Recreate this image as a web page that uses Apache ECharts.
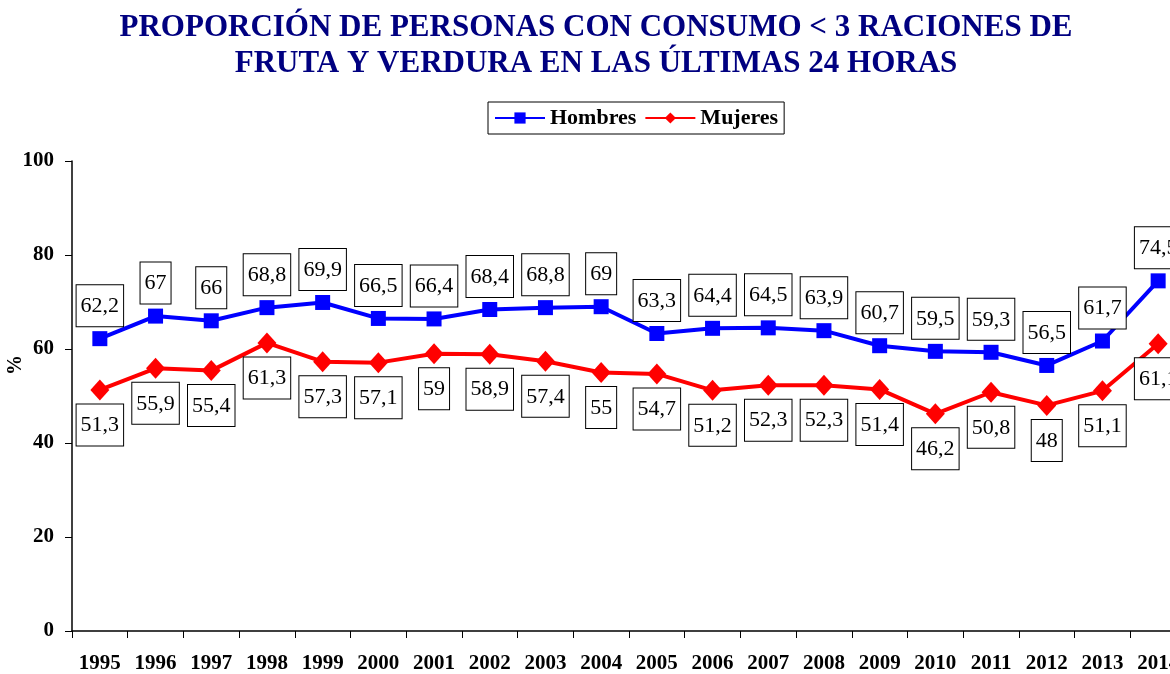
<!DOCTYPE html>
<html>
<head>
<meta charset="utf-8">
<script src="https://cdn.jsdelivr.net/npm/echarts@6/dist/echarts.min.js"></script>
<style>
html, body { margin: 0; padding: 0; background: #fff; }
#main { width: 1170px; height: 674px; }
</style>
</head>
<body>
<div id="main"></div>
<script>
const years = ['1995', '1996', '1997', '1998', '1999', '2000', '2001', '2002', '2003', '2004',
    '2005', '2006', '2007', '2008', '2009', '2010', '2011', '2012', '2013', '2014'];
const hombres = [62.2, 67, 66, 68.8, 69.9, 66.5, 66.4, 68.4, 68.8, 69,
    63.3, 64.4, 64.5, 63.9, 60.7, 59.5, 59.3, 56.5, 61.7, 74.5];
const mujeres = [51.3, 55.9, 55.4, 61.3, 57.3, 57.1, 59, 58.9, 57.4, 55,
    54.7, 51.2, 52.3, 52.3, 51.4, 46.2, 50.8, 48, 51.1, 61.1];

const serif = '"Liberation Serif", "DejaVu Serif", serif';

// etiquetas con recuadro, coma decimal
function boxLabel(pos, dist) {
    return {
        show: true,
        position: pos,
        distance: dist,
        formatter: p => String(p.value).replace('.', ','),
        fontFamily: serif,
        fontSize: 22,
        lineHeight: 24,
        color: '#000',
        backgroundColor: '#fff',
        borderColor: '#000',
        borderWidth: 1,
        padding: [9, 4, 8, 4]
    };
}

const myChart = echarts.init(document.getElementById('main'));
const option = {
    animation: false,
    title: {
        text: 'PROPORCIÓN DE PERSONAS CON CONSUMO < 3 RACIONES DE\nFRUTA Y VERDURA EN LAS ÚLTIMAS 24 HORAS',
        left: 591,
        textAlign: 'center',
        top: 5,
        textStyle: {
            fontFamily: serif,
            fontWeight: 'bold',
            fontSize: 31,
            lineHeight: 36,
            color: '#000080'
        }
    },
    legend: {
        data: ['Hombres', 'Mujeres'],
        left: 488,
        top: 102,
        padding: [5, 6],
        itemGap: 8,
        itemWidth: 50,
        itemHeight: 14,
        borderColor: '#000',
        borderWidth: 1,
        textStyle: {
            fontFamily: serif,
            fontWeight: 'bold',
            fontSize: 22,
            color: '#000'
        }
    },
    // nombre del eje Y
    graphic: [{
        type: 'text',
        x: 16,
        y: 365,
        rotation: Math.PI / 2,
        style: {
            text: '%',
            fontFamily: serif,
            fontWeight: 'bold',
            fontSize: 20,
            fill: '#000',
            align: 'center',
            verticalAlign: 'middle'
        }
    }],
    grid: {
        left: 72,
        width: 1114,
        top: 161,
        bottom: 43,
        containLabel: false,
        outerBoundsMode: 'none'
    },
    xAxis: {
        type: 'category',
        data: years,
        boundaryGap: true,
        axisLine: { lineStyle: { color: '#000', width: 1.5 } },
        axisTick: { show: true, length: 7, lineStyle: { color: '#000' } },
        axisLabel: {
            interval: 0,
            margin: 22,
            fontFamily: serif,
            fontWeight: 'bold',
            fontSize: 21,
            color: '#000'
        },
        splitLine: { show: false }
    },
    yAxis: {
        type: 'value',
        min: 0,
        max: 100,
        interval: 20,
        axisLine: { show: true, lineStyle: { color: '#000', width: 1.5 } },
        axisTick: { show: true, length: 7, lineStyle: { color: '#000' } },
        axisLabel: {
            margin: 18,
            fontFamily: serif,
            fontWeight: 'bold',
            fontSize: 21,
            color: '#000'
        },
        splitLine: { show: false }
    },
    series: [
        {
            name: 'Hombres',
            type: 'line',
            data: hombres,
            symbol: 'rect',
            symbolSize: 15,
            itemStyle: { color: '#0000ff' },
            lineStyle: { color: '#0000ff', width: 4 },
            label: boxLabel('top', 5),
            z: 3
        },
        {
            name: 'Mujeres',
            type: 'line',
            data: mujeres,
            symbol: 'diamond',
            symbolSize: [19, 21],
            itemStyle: { color: '#ff0000' },
            lineStyle: { color: '#ff0000', width: 4 },
            label: boxLabel('bottom', 4),
            z: 2
        }
    ]
};
myChart.setOption(option);
</script>
</body>
</html>
